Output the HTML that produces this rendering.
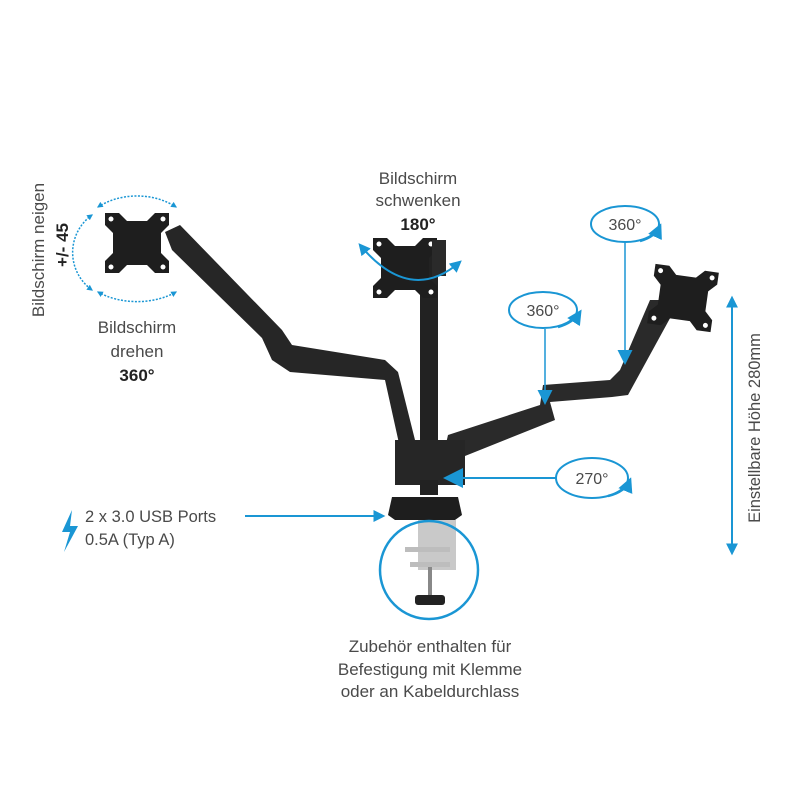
<!DOCTYPE html>
<html><head><meta charset="utf-8"><style>
html,body{margin:0;padding:0;background:#fff;}
svg{display:block;}
text{font-family:"Liberation Sans",sans-serif;fill:#4a4a4a;}
</style></head><body>
<svg width="800" height="800" viewBox="0 0 800 800" xmlns="http://www.w3.org/2000/svg">
<defs>
<marker id="ah" viewBox="0 0 10 10" refX="8" refY="5" markerWidth="6" markerHeight="6" orient="auto-start-reverse"><path d="M0,0 L10,5 L0,10 z" fill="#1a96d4"/></marker>
<marker id="ahb" viewBox="0 0 10 10" refX="8" refY="5" markerWidth="10" markerHeight="10" orient="auto-start-reverse"><path d="M0,0 L10,5 L0,10 z" fill="#1a96d4"/></marker>
<marker id="ahs" viewBox="0 0 10 10" refX="8" refY="5" markerWidth="4" markerHeight="4" orient="auto-start-reverse"><path d="M0,0 L10,5 L0,10 z" fill="#1a96d4"/></marker>
<g id="vesa">
<path d="M-32,-30 L-18,-30 L-10,-22 L10,-22 L18,-30 L32,-30 L32,-18 L24,-10 L24,10 L32,18 L32,30 L18,30 L10,22 L-10,22 L-18,30 L-32,30 L-32,18 L-24,10 L-24,-10 L-32,-18 z" fill="#1e1e1e"/>
<circle cx="-26" cy="-24" r="2.5" fill="#fff"/><circle cx="26" cy="-24" r="2.5" fill="#fff"/>
<circle cx="-26" cy="24" r="2.5" fill="#fff"/><circle cx="26" cy="24" r="2.5" fill="#fff"/>
</g>
</defs>

<text transform="translate(44,250) rotate(-90)" text-anchor="middle" font-size="17">Bildschirm neigen</text>
<text transform="translate(68,245) rotate(-90)" text-anchor="middle" font-size="17" font-weight="bold" style="fill:#222">+/- 45</text>

<path d="M92,215 A46,46 0 0 0 92,290" fill="none" stroke="#1a96d4" stroke-width="1.5" stroke-dasharray="2,1.5" marker-start="url(#ahs)" marker-end="url(#ahs)"/>
<path d="M98,207 A60,46 0 0 1 176,207" fill="none" stroke="#1a96d4" stroke-width="1.5" stroke-dasharray="2,1.5" marker-start="url(#ahs)" marker-end="url(#ahs)"/>
<path d="M98,292 A60,40 0 0 0 176,292" fill="none" stroke="#1a96d4" stroke-width="1.5" stroke-dasharray="2,1.5" marker-start="url(#ahs)" marker-end="url(#ahs)"/>

<text x="137" y="333" text-anchor="middle" font-size="17">Bildschirm</text>
<text x="137" y="357" text-anchor="middle" font-size="17">drehen</text>
<text x="137" y="381" text-anchor="middle" font-size="17" font-weight="bold" style="fill:#222">360°</text>

<path d="M165,232 L180,225 L282,330 L292,345 L385,360 L398,372 L415,440 L400,448 L385,380 L290,372 L272,360 L262,338 L172,250 z" fill="#262626"/>
<use href="#vesa" x="137" y="243"/>

<rect x="420" y="250" width="18" height="225" fill="#222"/>
<use href="#vesa" x="405" y="268"/>
<rect x="432" y="240" width="14" height="36" fill="#2a2a2a"/>
<path d="M360,245 Q410,305 460,262" fill="none" stroke="#1a96d4" stroke-width="2" marker-start="url(#ah)" marker-end="url(#ah)"/>
<text x="418" y="184" text-anchor="middle" font-size="17">Bildschirm</text>
<text x="418" y="206" text-anchor="middle" font-size="17">schwenken</text>
<text x="418" y="230" text-anchor="middle" font-size="17" font-weight="bold" style="fill:#222">180°</text>

<path d="M445,448 L448,435 L540,405 L543,385 L610,380 L620,370 L650,300 L680,300 L628,395 L612,397 L550,402 L555,420 L455,460 z" fill="#2a2a2a"/>
<use href="#vesa" transform="translate(683,298) rotate(8)"/>

<path d="M395,440 L465,440 L465,485 L395,485 z" fill="#262626"/>
<rect x="420" y="480" width="18" height="15" fill="#222"/>
<path d="M392,497 L458,497 L462,515 L455,520 L395,520 L388,515 z" fill="#1e1e1e"/>

<rect x="418" y="520" width="38" height="50" fill="#c9c9c9"/>
<rect x="405" y="547" width="45" height="5" fill="#bdbdbd"/>
<rect x="410" y="562" width="40" height="5" fill="#bdbdbd"/>
<rect x="428" y="567" width="4" height="30" fill="#888"/>
<rect x="415" y="595" width="30" height="10" rx="3" fill="#222"/>
<circle cx="429" cy="570" r="49" fill="none" stroke="#1a96d4" stroke-width="2.5"/>

<path d="M72,510 L62,532 L70,532 L64,552 L78,526 L70,526 z" fill="#1a96d4"/>
<text x="85" y="522" font-size="16.5">2 x 3.0 USB Ports</text>
<text x="85" y="545" font-size="16.5">0.5A (Typ A)</text>
<line x1="245" y1="516" x2="383" y2="516" stroke="#1a96d4" stroke-width="2" marker-end="url(#ah)"/>

<ellipse cx="625" cy="224" rx="34" ry="18" fill="none" stroke="#1a96d4" stroke-width="2"/>
<text x="625" y="230" text-anchor="middle" font-size="16">360°</text>
<path d="M640,241 Q655,237 660,226" fill="none" stroke="#1a96d4" stroke-width="2.5" marker-end="url(#ah)"/>
<line x1="625" y1="243" x2="625" y2="362" stroke="#1a96d4" stroke-width="1.5" marker-end="url(#ahb)"/>

<ellipse cx="543" cy="310" rx="34" ry="18" fill="none" stroke="#1a96d4" stroke-width="2"/>
<text x="543" y="316" text-anchor="middle" font-size="16">360°</text>
<path d="M558,327 Q573,323 580,312" fill="none" stroke="#1a96d4" stroke-width="2.5" marker-end="url(#ah)"/>
<line x1="545" y1="329" x2="545" y2="402" stroke="#1a96d4" stroke-width="1.5" marker-end="url(#ahb)"/>

<ellipse cx="592" cy="478" rx="36" ry="20" fill="none" stroke="#1a96d4" stroke-width="2"/>
<text x="592" y="484" text-anchor="middle" font-size="16">270°</text>
<path d="M608,496 Q625,492 630,480" fill="none" stroke="#1a96d4" stroke-width="2.5" marker-end="url(#ah)"/>
<line x1="556" y1="478" x2="447" y2="478" stroke="#1a96d4" stroke-width="2" marker-end="url(#ahb)"/>

<line x1="732" y1="298" x2="732" y2="553" stroke="#1a96d4" stroke-width="2" marker-start="url(#ah)" marker-end="url(#ah)"/>
<text transform="translate(760,428) rotate(-90)" text-anchor="middle" font-size="16.5">Einstellbare Höhe 280mm</text>

<text x="430" y="652" text-anchor="middle" font-size="17">Zubehör enthalten für</text>
<text x="430" y="675" text-anchor="middle" font-size="17">Befestigung mit Klemme</text>
<text x="430" y="697" text-anchor="middle" font-size="17">oder an Kabeldurchlass</text>
</svg>
</body></html>
